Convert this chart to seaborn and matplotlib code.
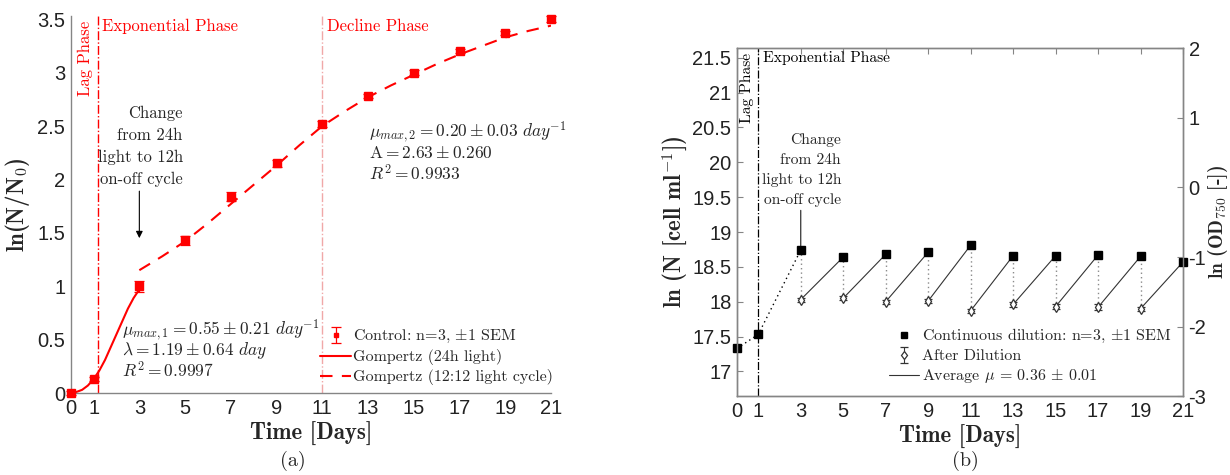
import numpy as np
import pandas as pd
import matplotlib
matplotlib.use("Agg")
import matplotlib.pyplot as plt
import seaborn as sns
from matplotlib.lines import Line2D

# ---------------- data (panel a) ----------------
days = [0, 1, 3, 5, 7, 9, 11, 13, 15, 17, 19, 21]
ctrl_ln = [0.00, 0.13, 1.00, 1.43, 1.84, 2.15, 2.52, 2.78, 3.00, 3.20, 3.37, 3.50]
ctrl_sem = [0.02, 0.02, 0.05, 0.04, 0.04, 0.03, 0.03, 0.02, 0.02, 0.02, 0.02, 0.03]

gomp24_t = [0, 0.25, 0.5, 0.75, 1.0, 1.25, 1.5, 1.75, 2.0, 2.25, 2.5, 2.75, 3.0]
gomp24_y = [0.00, 0.01, 0.03, 0.07, 0.13, 0.21, 0.31, 0.43, 0.55, 0.67, 0.79, 0.89, 0.97]

gomp12_t = [3, 4, 5, 6, 7, 8, 9, 10, 11, 12, 13, 14, 15, 16, 17, 18, 19, 20, 21]
gomp12_y = [1.15, 1.28, 1.42, 1.59, 1.77, 1.95, 2.13, 2.32, 2.50, 2.64, 2.77, 2.88,
            2.98, 3.08, 3.17, 3.25, 3.33, 3.39, 3.44]

lag_end_a = 1.2
decline_start = 11

# ---------------- data (panel b) ----------------
cont_ln = [17.33, 17.53, 18.74, 18.64, 18.68, 18.71, 18.81, 18.66, 18.66, 18.67, 18.65, 18.57]
dil_days = [3, 5, 7, 9, 11, 13, 15, 17, 19]
after_ln = [18.03, 18.05, 18.00, 18.01, 17.87, 17.96, 17.93, 17.92, 17.90]
after_sem = [0.03, 0.03, 0.03, 0.03, 0.03, 0.03, 0.03, 0.04, 0.03]
lag_end_b = 1.0

xticks = [0, 1, 3, 5, 7, 9, 11, 13, 15, 17, 19, 21]

# ---------------- style ----------------
sns.set_theme(style="white")
plt.rcParams["font.family"] = ["Liberation Sans", "DejaVu Sans"]
plt.rcParams["mathtext.fontset"] = "cm"
plt.rcParams["axes.unicode_minus"] = False
SPINE = "#858585"
RED = "#ff0000"
SERIF = "cmr10"
BOLD = "cmb10"
TICKSIZE = 14.5
LABELSIZE = 16.5

fig = plt.figure(figsize=(12.3, 4.75), dpi=100)
axa = fig.add_axes([0.0575, 0.1726, 0.3905, 0.7937])
axb = fig.add_axes([0.5992, 0.1653, 0.3626, 0.7336])

def style_ax(ax):
    for s in ax.spines.values():
        s.set_color(SPINE)
        s.set_linewidth(1.0)
    ax.tick_params(direction="in", length=4, width=0.8, color=SPINE,
                   labelsize=TICKSIZE, labelcolor="#222222", pad=4)

# ---------------- panel a ----------------
style_ax(axa)
axa.spines["top"].set_visible(False)
axa.spines["right"].set_visible(False)

axa.axvline(lag_end_a, color=RED, lw=1.0, ls="-.")
axa.axvline(decline_start, color="#f0a8a8", lw=1.0, ls="-.")

sns.lineplot(x=gomp24_t, y=gomp24_y, ax=axa, color=RED, lw=1.5,
             label="Gompertz (24h light)", legend=False)
sns.lineplot(x=gomp12_t, y=gomp12_y, ax=axa, color=RED, lw=1.5,
             label="Gompertz (12:12 light cycle)", legend=False)
axa.lines[-1].set_linestyle((0, (6, 4.5)))
eb = axa.errorbar(days, ctrl_ln, yerr=ctrl_sem, fmt="s", color=RED, ms=6,
                  elinewidth=0.9, capsize=3.5, capthick=0.9,
                  label="Control: n=3, $\\pm$1 SEM", zorder=5)
for art in eb.lines[0:1] + tuple(eb.lines[1]) + tuple(eb.lines[2]):
    art.set_clip_on(False)

axa.set_xlim(0, 21)
axa.set_ylim(0, 3.53)
axa.set_xticks(xticks)
axa.set_yticks(np.arange(0, 3.51, 0.5))
axa.set_yticklabels(["0", "0.5", "1", "1.5", "2", "2.5", "3", "3.5"])
axa.set_xlabel("Time [Days]", fontfamily=BOLD, fontsize=LABELSIZE, labelpad=3)
axa.set_ylabel("ln(N/N$_0$)", fontfamily=BOLD, fontsize=LABELSIZE, labelpad=4)

axa.text(0.66, 3.49, "Lag Phase", rotation=90, color=RED, fontfamily=SERIF,
         fontsize=12, ha="center", va="top")
axa.text(1.37, 3.43, "Exponential Phase", color=RED, fontfamily=SERIF,
         fontsize=12, ha="left", va="center")
axa.text(11.2, 3.43, "Decline Phase", color=RED, fontfamily=SERIF,
         fontsize=12, ha="left", va="center")
axa.text(4.9, 1.93, "Change\nfrom 24h\nlight to 12h\non-off cycle",
         fontfamily=SERIF, fontsize=12, ha="right", va="bottom",
         multialignment="right", linespacing=1.55)
axa.annotate("", xy=(3, 1.45), xytext=(3, 1.89),
             arrowprops=dict(arrowstyle="-|>", color="black", lw=0.8,
                             shrinkA=0, shrinkB=0, mutation_scale=10))

axa.text(2.24, 0.59, r"$\mu_{max,1} = 0.55 \pm 0.21\ day^{-1}$", fontsize=12.5,
         ha="left", va="center")
axa.text(2.24, 0.40, r"$\lambda = 1.19 \pm 0.64\ day$", fontsize=12.5,
         ha="left", va="center")
axa.text(2.24, 0.21, r"$R^2 = 0.9997$", fontsize=12.5, ha="left", va="center")

axa.text(13.03, 2.44, r"$\mu_{max,2} = 0.20 \pm 0.03\ day^{-1}$", fontsize=12.5,
         ha="left", va="center")
axa.text(13.03, 2.25, r"$\mathrm{A} = 2.63 \pm 0.260$", fontsize=12.5,
         ha="left", va="center")
axa.text(13.03, 2.06, r"$R^2 = 0.9933$", fontsize=12.5, ha="left", va="center")

h_a = [eb, axa.lines[2], axa.lines[3]]
leg_a = axa.legend(handles=h_a, labels=[h.get_label() for h in h_a],
                   loc="lower left", bbox_to_anchor=(0.50, -0.005), frameon=False,
                   prop={"family": SERIF, "size": 11.5}, handlelength=1.9,
                   handletextpad=0.15, labelspacing=0.25, markerscale=0.55,
                   borderaxespad=0.2)

# ---------------- panel b ----------------
style_ax(axb)
axb.tick_params(top=True, right=False)
axb.axvline(lag_end_b, color="black", lw=0.9, ls="-.")

# dotted approach before dilution starts
sns.lineplot(x=days[:3], y=cont_ln[:3], ax=axb, color="black", lw=1.0,
             legend=False)
axb.lines[-1].set_linestyle((0, (1, 2.5)))
# dilution drops
axb.vlines(dil_days, after_ln, [cont_ln[days.index(d)] for d in dil_days],
           colors="#8a8a8a", linestyles=(0, (1, 2.2)), lw=1.0)
# growth segments between dilutions
for i, d in enumerate(dil_days):
    j = days.index(d) + 1
    sns.lineplot(x=[d, days[j]], y=[after_ln[i], cont_ln[j]], ax=axb,
                 color="#333333", lw=0.8, legend=False)
avg_line = Line2D([], [], color="#333333", lw=0.8)

cont_h, = axb.plot(days, cont_ln, "s", color="black", ms=5.5, ls="none",
                   zorder=5, clip_on=False)
after_h = axb.errorbar(dil_days, after_ln, yerr=after_sem, fmt="d", ms=5.5,
                       mfc="white", mec="#333333", mew=0.9, ecolor="#333333",
                       elinewidth=0.8, capsize=3, capthick=0.8, zorder=6)

axb.set_xlim(0, 21)
axb.set_ylim(16.64, 21.64)
axb.set_xticks(xticks)
axb.set_yticks(np.arange(17, 21.51, 0.5))
axb.set_yticklabels(["17", "17.5", "18", "18.5", "19", "19.5", "20", "20.5",
                     "21", "21.5"])
axb.set_xlabel("Time [Days]", fontfamily=BOLD, fontsize=LABELSIZE, labelpad=3)
axb.set_ylabel("ln (N [cell ml$^{-1}$])", fontfamily=BOLD, fontsize=LABELSIZE,
               labelpad=2)

axb2 = axb.twinx()
style_ax(axb2)
axb2.set_ylim(-3, 2)
axb2.set_yticks([-3, -2, -1, 0, 1, 2])
axb2.set_ylabel("ln (OD$_{750}$ [-])", fontfamily=BOLD, fontsize=14)
axb2.yaxis.set_label_coords(1.052, 0.5)

axb.text(0.47, 21.57, "Lag Phase", rotation=90, color="black", fontfamily=SERIF,
         fontsize=11.2, ha="center", va="top")
axb.text(1.22, 21.49, "Exponential Phase", color="black", fontfamily=SERIF,
         fontsize=11.2, ha="left", va="center")
axb.text(4.9, 19.36, "Change\nfrom 24h\nlight to 12h\non-off cycle",
         fontfamily=SERIF, fontsize=11.2, ha="right", va="bottom",
         multialignment="right", linespacing=1.55)
axb.annotate("", xy=(3, 18.74), xytext=(3, 19.31),
             arrowprops=dict(arrowstyle="-", color="#333333", lw=0.9,
                             shrinkA=0, shrinkB=0))

leg_b = axb.legend(handles=[cont_h, after_h, avg_line],
                   labels=["Continuous dilution: n=3, $\\pm$1 SEM",
                           "After Dilution",
                           "Average $\\mu$ = 0.36 $\\pm$ 0.01"],
                   loc="lower right", bbox_to_anchor=(1.0, 0.0), frameon=False,
                   prop={"family": SERIF, "size": 11.5}, handlelength=1.9,
                   handletextpad=0.2, labelspacing=0.25, markerscale=0.8,
                   borderaxespad=0.3)

fig.text(0.2382, 0.02, "(a)", fontfamily=SERIF, fontsize=14.5, ha="center")
fig.text(0.7846, 0.02, "(b)", fontfamily=SERIF, fontsize=14.5, ha="center")

fig.savefig("out.png", dpi=100)
